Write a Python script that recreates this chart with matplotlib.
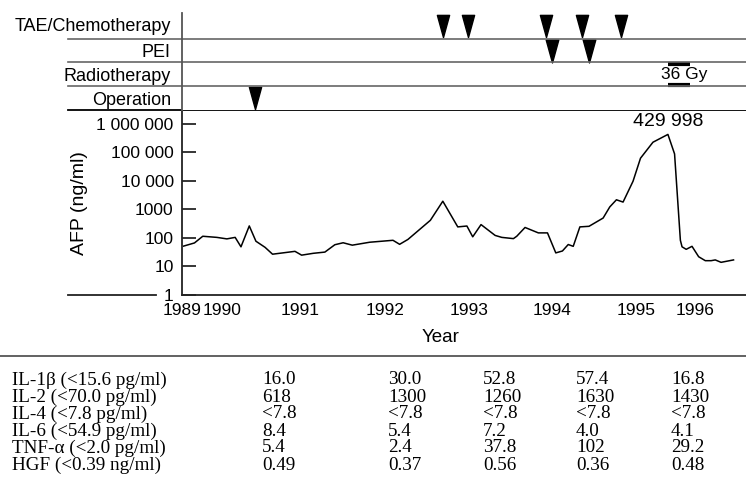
import matplotlib
matplotlib.use('Agg')
import matplotlib.pyplot as plt
from matplotlib.path import Path

plt.rcParams['font.family'] = ['Liberation Sans', 'DejaVu Sans']

# AFP course (decimal year, ng/ml)
afp_t = [1989.60, 1989.73, 1989.83, 1990.00, 1990.12, 1990.22, 1990.29, 1990.39, 1990.47, 1990.58,
         1990.67, 1990.94, 1991.02, 1991.16, 1991.30, 1991.42, 1991.52, 1991.63, 1991.84, 1992.12,
         1992.20, 1992.30, 1992.57, 1992.72, 1992.90, 1993.01, 1993.08, 1993.18, 1993.35, 1993.43,
         1993.57, 1993.61, 1993.71, 1993.87, 1993.98, 1994.08, 1994.16, 1994.23, 1994.29, 1994.37,
         1994.48, 1994.65, 1994.73, 1994.81, 1994.89, 1995.01, 1995.10, 1995.25, 1995.43, 1995.51,
         1995.58, 1995.60, 1995.65, 1995.72, 1995.80, 1995.88, 1995.95, 1996.00, 1996.07, 1996.22]
afp_val = [52, 67, 115, 105, 93, 105, 49, 265, 77, 47,
           27, 34, 25, 29, 32, 58, 68, 56, 71, 83,
           60, 89, 417, 1950, 245, 263, 110, 295, 123, 105,
           95, 115, 234, 151, 151, 30, 35, 59, 51, 245,
           257, 501, 1230, 2190, 1820, 9800, 63000, 229000, 429998, 89000,
           83, 49, 40, 51, 22, 16, 16, 17, 14, 17]
peak_label = '429 998'

# treatments
tae_t = [1992.72, 1993.02, 1993.96, 1994.40, 1994.86]
pei_t = [1994.04, 1994.48]
op_t = [1990.46]
radio_start, radio_end = 1995.43, 1995.70
radio_dose = '36 Gy'
rows = ['Operation', 'Radiotherapy', 'PEI', 'TAE/Chemotherapy']

# x axis labels
year_pos = [1989.58, 1990.06, 1991.0, 1992.03, 1993.04, 1994.03, 1995.05, 1995.76]
year_labels = ['1989', '1990', '1991', '1992', '1993', '1994', '1995', '1996']
afp_ticks = [1, 10, 100, 1000, 10000, 100000, 1000000]
afp_tick_labels = ['1', '10', '100', '1000', '10 000', '100 000', '1 000 000']

# cytokine table
cyto_names = ['IL-1\u03b2 (<15.6 pg/ml)', 'IL-2 (<70.0 pg/ml)', 'IL-4 (<7.8 pg/ml)',
              'IL-6 (<54.9 pg/ml)', 'TNF-\u03b1 (<2.0 pg/ml)', 'HGF (<0.39 ng/ml)']
cyto_vals = [['16.0', '30.0', '52.8', '57.4', '16.8'],
             ['618', '1300', '1260', '1630', '1430'],
             ['<7.8', '<7.8', '<7.8', '<7.8', '<7.8'],
             ['8.4', '5.4', '7.2', '4.0', '4.1'],
             ['5.4', '2.4', '37.8', '102', '29.2'],
             ['0.49', '0.37', '0.56', '0.36', '0.48']]

W, H = 746, 493
fig = plt.figure(figsize=(W / 100, H / 100), dpi=100)

ax = fig.add_axes([182 / W, 1 - 295 / H, 564 / W, 185 / H])
ax_t = fig.add_axes([182 / W, 1 - 110 / H, 564 / W, 97 / H], sharex=ax)

# AFP curve
ax.plot(afp_t, afp_val, color='black', lw=1.1)
ax.set_yscale('log')
ax.set_ylim(1, 10 ** 6.49)
ax.set_xlim(1989.58, 1996.37)
ax.set_yticks(afp_ticks)
ax.set_yticklabels(afp_tick_labels)
ax.minorticks_off()
ax.tick_params(axis='y', direction='in', length=10, width=1.1, pad=6, labelsize=12.5)
ax.set_xticks(year_pos)
ax.set_xticklabels(year_labels)
ax.tick_params(axis='x', length=0, pad=6, labelsize=12.5)
for s in ['top', 'right']:
    ax.spines[s].set_visible(False)
for s in ['left', 'bottom']:
    ax.spines[s].set_linewidth(1.3)
    ax.spines[s].set_color('#222222')

ipk = afp_val.index(max(afp_val))
ax.annotate(peak_label, (afp_t[ipk], afp_val[ipk]), xytext=(0, 3), textcoords='offset points',
            ha='center', va='bottom', fontsize=14)

# lines running to the left of the axes
left_x = (68 - 182) / 564
ax.plot([left_x, 1], [1, 1], transform=ax.transAxes, color='black', lw=1.3, clip_on=False)
ax.plot([left_x, (156 - 182) / 564], [0, 0], transform=ax.transAxes, color='#222222', lw=1.3,
        clip_on=False)

# treatment panel
ax_t.set_ylim(0, 4.08)
tri = Path([(-0.55, 1), (0.55, 1), (0, -1), (-0.55, 1)],
           [Path.MOVETO, Path.LINETO, Path.LINETO, Path.CLOSEPOLY])
ax_t.plot(tae_t, [3.55] * len(tae_t), ls='none', marker=tri, ms=16, color='black', clip_on=False)
ax_t.plot(pei_t, [2.5] * len(pei_t), ls='none', marker=tri, ms=16.5, color='black', clip_on=False)
ax_t.plot(op_t, [0.5] * len(op_t), ls='none', marker=tri, ms=16, color='black', clip_on=False)
ax_t.hlines([1.94, 1.06], radio_start, radio_end, color='black', lw=3)
ax_t.text((radio_start + radio_end) / 2 + 0.06, 1.5, radio_dose, ha='center', va='center',
          fontsize=12.5)
for r in [1, 2, 3]:
    ax_t.plot([left_x, 1], [r / 4.08, r / 4.08], transform=ax_t.transAxes, color='#666666',
              lw=1.2, clip_on=False)
ax_t.set_yticks([0.5, 1.5, 2.5, 3.6])
ax_t.set_yticklabels(rows)
ax_t.tick_params(axis='y', length=0, pad=8, labelsize=13)
ax_t.tick_params(axis='x', length=0, labelbottom=False)
for s in ['top', 'right', 'bottom']:
    ax_t.spines[s].set_visible(False)
ax_t.spines['left'].set_linewidth(1.3)
ax_t.spines['left'].set_color('#555555')

fig.text(79 / W, 1 - 203 / H, 'AFP (ng/ml)', rotation=90, ha='center', va='center', fontsize=14)
fig.text(441 / W, 1 - 337 / H, 'Year', ha='center', va='center', fontsize=13.5)

# table
fig.add_artist(plt.Line2D([0, 1], [1 - 356 / H, 1 - 356 / H], color='#555555', lw=1.3))
col_x = [12, 262, 388, 483, 576, 671]
for i, name in enumerate(cyto_names):
    yy = 1 - (380 + 17 * i) / H
    fig.text(col_x[0] / W, yy, name, ha='left', va='center', fontsize=13.8,
             family=['Liberation Serif', 'DejaVu Serif'])
    for j, v in enumerate(cyto_vals[i]):
        fig.text(col_x[j + 1] / W, yy, v, ha='left', va='center', fontsize=13.8,
                 family=['Liberation Serif', 'DejaVu Serif'])

fig.savefig('out.png', dpi=100)
